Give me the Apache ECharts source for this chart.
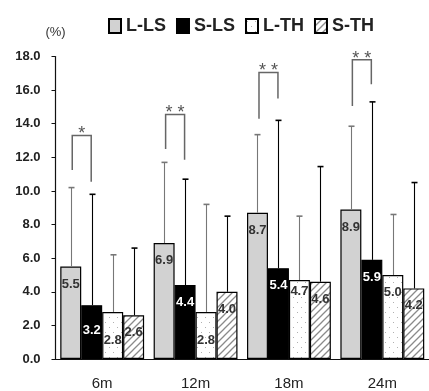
<!DOCTYPE html>
<html><head><meta charset="utf-8">
<script src="https://cdn.jsdelivr.net/npm/echarts@6/dist/echarts.min.js"></script>
<style>html,body{margin:0;padding:0;background:#fff}#c{width:429px;height:391px}</style>
</head><body><div id="c"></div>
<script>
// ---- data ----
const categories = ['6m', '12m', '18m', '24m'];
const seriesNames = ['L-LS', 'S-LS', 'L-TH', 'S-TH'];
const valLLS = [5.5, 6.9, 8.7, 8.9];
const valSLS = [3.2, 4.4, 5.4, 5.9];
const valLTH = [2.8, 2.8, 4.7, 5.0];
const valSTH = [2.6, 4.0, 4.6, 4.2];
const errTopLLS = [10.2, 11.7, 13.35, 13.85];
const errTopSLS = [9.8, 10.7, 14.2, 15.3];
const errTopLTH = [6.2, 9.2, 8.5, 8.6];
const errTopSTH = [6.6, 8.5, 11.45, 10.5];
const sigTop = [13.3, 14.55, 17.05, 17.8];
const sigLeftBottom = [11.25, 12.5, 14.3, 15.05];
const sigRightBottom = [10.55, 11.85, 15.5, 16.35];
const sigMarks = ['*', '**', '**', '**'];
const yMin = 0, yMax = 18, yStep = 2;
const yUnit = '(%)';

// ---- styling ----
function makePattern(kind) {
  const c = document.createElement('canvas');
  const ctx = c.getContext('2d');
  if (kind === 'dots') {
    c.width = 8; c.height = 10;
    ctx.fillStyle = '#fff'; ctx.fillRect(0, 0, 8, 10);
    ctx.fillStyle = '#b0b0b0';
    ctx.fillRect(1, 2, 1, 1);
    ctx.fillRect(5, 7, 1, 1);
  } else {
    c.width = 7; c.height = 7;
    ctx.fillStyle = '#fff'; ctx.fillRect(0, 0, 7, 7);
    ctx.strokeStyle = '#8a8a8a'; ctx.lineWidth = 1.3;
    ctx.beginPath();
    ctx.moveTo(-1, 8); ctx.lineTo(8, -1);
    ctx.moveTo(-1, 1); ctx.lineTo(1, -1);
    ctx.moveTo(6, 8); ctx.lineTo(8, 6);
    ctx.stroke();
  }
  return { image: c, repeat: 'repeat' };
}
const fills = ['#d2d2d2', '#000000', makePattern('dots'), makePattern('hatch')];
const labelColors = ['#333', '#fff', '#333', '#333'];
const errColors = ['#777', '#000', '#777', '#000'];
const values = [valLLS, valSLS, valLTH, valSTH];
const errTops = [errTopLLS, errTopSLS, errTopLTH, errTopSTH];
const nBars = 4, catGap = 0.102;
// per-label vertical nudges (px) [series-category]
const labelNudge = { '1-0': 8, '2-0': 11, '2-1': 11, '2-2': -6 };

const font = 'Liberation Sans, Arial, sans-serif';

function barOffset(i, band) {
  const bw = band * (1 - catGap) / nBars;
  return { off: (i - (nBars - 1) / 2) * bw, bw: bw };
}

const series = [];
seriesNames.forEach((name, i) => {
  series.push({
    name: name, type: 'bar', barGap: '0%', barCategoryGap: (catGap * 100) + '%',
    itemStyle: { color: fills[i], borderColor: '#000', borderWidth: 1.2 },
    label: { show: true, position: 'insideTop', distance: 11,
      color: labelColors[i], fontFamily: font, fontWeight: 'bold', fontSize: 13,
      formatter: p => p.value.toFixed(1) },
    data: values[i].map((v, j) => {
      const n = labelNudge[i + '-' + j];
      return n ? { value: v, label: { offset: [0, n] } } : v;
    }),
    z: 2
  });
});

seriesNames.forEach((name, i) => {
  series.push({
    type: 'custom', z: 3, silent: true,
    data: categories.map((c, j) => [j, values[i][j], errTops[i][j]]),
    renderItem: function (params, api) {
      const band = api.size([1, 0])[0];
      const o = barOffset(i, band);
      const base = api.coord([api.value(0), api.value(1)]);
      const top = api.coord([api.value(0), api.value(2)]);
      const x = Math.round(base[0] + o.off) + 0.5;
      const st = { stroke: errColors[i], lineWidth: 1.1 };
      return { type: 'group', children: [
        { type: 'line', shape: { x1: x, y1: base[1], x2: x, y2: top[1] }, style: st },
        { type: 'line', shape: { x1: x - 3, y1: top[1], x2: x + 3, y2: top[1] }, style: { stroke: errColors[i], lineWidth: 1.6 } }
      ]};
    }
  });
});

series.push({
  type: 'custom', z: 4, silent: true,
  data: categories.map((c, j) => [j, sigTop[j], sigLeftBottom[j], sigRightBottom[j]]),
  renderItem: function (params, api) {
    const band = api.size([1, 0])[0];
    const j = api.value(0);
    const c = api.coord([j, api.value(1)]);
    const yl = api.coord([j, api.value(2)])[1];
    const yr = api.coord([j, api.value(3)])[1];
    const xl = c[0] + barOffset(0, band).off + 1.5;
    const xr = c[0] + barOffset(1, band).off - 0.5;
    return { type: 'group', children: [
      { type: 'polyline', shape: { points: [[xl, yl], [xl, c[1]], [xr, c[1]], [xr, yr]] },
        style: { stroke: '#666', lineWidth: 1.5, fill: null } },
      { type: 'text', x: (xl + xr) / 2, y: c[1] + 8,
        style: { text: sigMarks[params.dataIndex].split('').join(' '), fill: '#555',
          font: '18px ' + font, align: 'center', verticalAlign: 'bottom' } }
    ]};
  }
});

const chart = echarts.init(document.getElementById('c'), null, { renderer: 'canvas' });
chart.setOption({
  animation: false,
  backgroundColor: '#fff',
  legend: {
    data: seriesNames, left: 103, top: 12, itemGap: 10, itemWidth: 12, itemHeight: 14,
    icon: 'rect',
    textStyle: { fontFamily: font, fontWeight: 'bold', fontSize: 18, color: '#222' }
  },
  grid: { left: 55.5, top: 56.5, width: 378.7, bottom: 26.7, containLabel: false },
  xAxis: {
    type: 'category', data: categories,
    axisLine: { lineStyle: { color: '#111', width: 1.2 } },
    axisTick: { show: false },
    axisLabel: { margin: 17, fontFamily: font, fontSize: 15, color: '#222' }
  },
  yAxis: {
    type: 'value', min: yMin, max: yMax, interval: yStep,
    name: yUnit, nameLocation: 'end', nameGap: 18,
    nameTextStyle: { fontFamily: font, fontSize: 13, color: '#333', align: 'center' },
    axisLine: { show: true, lineStyle: { color: '#111', width: 1.2 } },
    axisTick: { show: true, length: 4, lineStyle: { color: '#111' } },
    splitLine: { show: false },
    axisLabel: { margin: 15, fontFamily: font, fontWeight: 'bold', fontSize: 13, color: '#222',
      formatter: v => v.toFixed(1) }
  },
  series: series
});
</script>
</body></html>
